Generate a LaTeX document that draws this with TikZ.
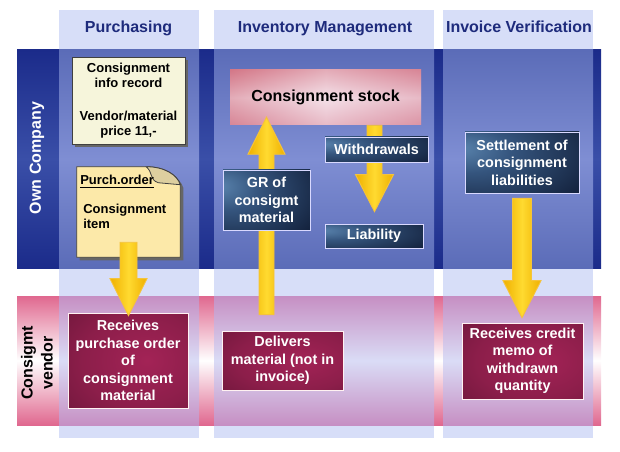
\documentclass[tikz,border=0pt]{standalone}
\usepackage{fontspec}
\setmainfont{Liberation Sans}
\usetikzlibrary{calc,shadows}
\definecolor{colbg}{HTML}{D7DEF8}
\definecolor{navy}{HTML}{1B2B8A}
\definecolor{navymid}{HTML}{3A4FA8}
\definecolor{bluetb}{HTML}{5B6CB8}
\definecolor{bluemid}{HTML}{7F8ED3}
\definecolor{pinkedge}{HTML}{E0688F}
\definecolor{mauve}{HTML}{C68FC3}
\definecolor{lav}{HTML}{DADCF6}
\definecolor{headtxt}{HTML}{1E2B7C}
\definecolor{cream}{HTML}{F6F5DB}
\definecolor{poyel}{HTML}{FCE9A9}
\definecolor{arrO}{HTML}{EFB000}
\definecolor{arrY}{HTML}{FFDA30}
\definecolor{arrLine}{HTML}{F5C33B}
\definecolor{stockR}{HTML}{D47888}
\definecolor{stockB}{HTML}{DC94A5}
\definecolor{stockP}{HTML}{F4E1E9}
\definecolor{bbA}{HTML}{5A84AE}
\definecolor{bbB}{HTML}{35557E}
\definecolor{bbC}{HTML}{13213C}
\definecolor{bbD}{HTML}{080F20}
\definecolor{mrA}{HTML}{A32356}
\definecolor{mrB}{HTML}{8C1E4A}
\definecolor{mrC}{HTML}{53102D}
\definecolor{mrD}{HTML}{36081C}
\pgfdeclareradialshading{blueboxshade}{\pgfpoint{-28bp}{12bp}}{color(0bp)=(bbA); color(18bp)=(bbB); color(50bp)=(bbC); color(100bp)=(bbD)}
\pgfdeclareradialshading{maroonshade}{\pgfpoint{8bp}{0bp}}{color(0bp)=(mrA); color(25bp)=(mrB); color(62bp)=(mrC); color(100bp)=(mrD)}
\pgfdeclarelayer{arrows}
\pgfdeclarelayer{front}
\pgfsetlayers{main,arrows,front}
\tikzset{
  hdr/.style={anchor=base, text=headtxt, font=\bfseries\fontsize{12}{14}\selectfont},
  sidelabel/.style={rotate=90, align=center, font=\bfseries\fontsize{12}{15}\selectfont},
  infobox/.style={fill=cream, draw=black!75, line width=0.7pt,
    drop shadow={shadow xshift=2.25pt, shadow yshift=-2.25pt, fill=black!60, opacity=1},
    align=center, inner sep=0pt, font=\bfseries\fontsize{9.75}{11.25}\selectfont},
  docshape/.style={fill=poyel, draw=black!75, line width=0.7pt,
    drop shadow={shadow xshift=2.25pt, shadow yshift=-2.25pt, fill=black!60, opacity=1}},
  doctext/.style={inner sep=0pt, align=left, font=\bfseries\fontsize{9.75}{11.25}\selectfont},
  stockbox/.style={shade, top color=stockR, bottom color=stockB, middle color=stockP,
    postaction={fill opacity=0.5, left color=stockR, right color=stockB, middle color=stockP},
    inner sep=0pt, font=\bfseries\fontsize{12}{14}\selectfont},
  bluebox/.style={shade, shading=blueboxshade, draw=white!85!blue, line width=0.6pt,
    text=white, align=center, inner sep=0pt, font=\bfseries\fontsize{10.8}{13.2}\selectfont},
  maroonbox/.style={shade, shading=maroonshade, draw=white!80!pink, line width=0.5pt,
    text=white, align=center, inner sep=0pt, font=\bfseries\fontsize{10.8}{13.1}\selectfont},
  yarrow/.style={left color=arrO, right color=arrO, middle color=arrY, draw=arrLine,
    line width=0.7pt, line join=miter}
}
% #1 start, #2 tip, #3 shaft half width, #4 head half width (pixels)
\newcommand{\bigarrow}[4]{%
  \path[yarrow] let \p1=(#1), \p2=(#2), \n1={sign(\y1-\y2)*27.75} in
    ({\x1-#3*0.75pt},\y1) -- ({\x1-#3*0.75pt},{\y2+\n1*1pt}) --
    ({\x1-#4*0.75pt},{\y2+\n1*1pt}) -- (\x1,\y2) --
    ({\x1+#4*0.75pt},{\y2+\n1*1pt}) -- ({\x1+#3*0.75pt},{\y2+\n1*1pt}) --
    ({\x1+#3*0.75pt},\y1) -- cycle;}
\begin{document}
\begin{tikzpicture}[x=0.75pt, y=-0.75pt]
\useasboundingbox (0,0) rectangle (620,452);
% column backgrounds
\fill[colbg] (59,10) rectangle (199,438);
\fill[colbg] (214,10) rectangle (434,438);
\fill[colbg] (443,10) rectangle (593,438);
% own company band
\shade[top color=navy, bottom color=navy, middle color=navymid] (17,50) rectangle (601,268);
\foreach \a/\b in {59/199, 214/434, 443/593}
  \shade[top color=bluetb, bottom color=bluetb, middle color=bluemid] (\a,50) rectangle (\b,268);
% consignment vendor band
\shade[top color=pinkedge, bottom color=pinkedge, middle color=white] (17,296) rectangle (601,425);
\foreach \a/\b in {59/199, 214/434, 443/593}
  \shade[top color=mauve, bottom color=mauve, middle color=lav] (\a,296) rectangle (\b,425);
% headers
\node[hdr] (h1) at (128.5,33) {Purchasing};
\node[hdr] (h2) at (325,33) {Inventory Management};
\node[hdr] (h3) at (519,33) {Invoice Verification};
% side labels
\node[sidelabel, text=white] (olabel) at (37,158) {Own Company};
\node[sidelabel, text=black] (vlabel) at (37,363) {Consigmt\\vendor};
% purchasing
\node[infobox, minimum width=84.75pt, minimum height=65.25pt] (info) at (128.5,100.5)
  {Consignment\\info record\\[13.5pt]Vendor/material\\price 11,-};
\node[minimum width=77.25pt, minimum height=67.5pt, inner sep=0pt] (po) at (128.5,212) {};
\path[docshape] (po.north west) -- ($(po.north east)+(-34,0)$)
  .. controls ($(po.north east)+(-16,0)$) and ($(po.north east)+(-3,8)$) .. ($(po.north east)+(0,18)$)
  -- (po.south east) -- (po.south west) -- cycle;
\path[fill=poyel!75!gray, draw=black!75, line width=0.6pt] ($(po.north east)+(-34,0)$)
  .. controls ($(po.north east)+(-27,6)$) and ($(po.north east)+(-31,13)$) .. ($(po.north east)+(-22,16)$)
  -- ($(po.north east)+(0,18)$)
  .. controls ($(po.north east)+(-3,8)$) and ($(po.north east)+(-16,0)$) .. cycle;
\node[doctext, anchor=base west] (potitle) at (80,185) {\underline{Purch.order}};
\node[doctext, anchor=north west] (poitem) at (83,204) {Consignment\\item};
\node[maroonbox, minimum width=90pt, minimum height=71.25pt] (rec) at (128,360.5)
  {Receives\\purchase order\\of\\consignment\\material};
% inventory management
\node[stockbox, minimum width=143.25pt, minimum height=41.25pt] (stock) at (325.5,97.5) {Consignment stock};
\node[bluebox, minimum width=73.5pt, minimum height=18pt] (liab) at (374,236) {Liability};
\node[maroonbox, minimum width=90.75pt, minimum height=44.25pt] (deliv) at (282.5,360.5)
  {Delivers\\material (not in\\invoice)};
\begin{pgfonlayer}{front}
\node[bluebox, minimum width=65.25pt, minimum height=45pt] (gr) at (266.5,200) {GR of\\consigmt\\material};
\node[bluebox, minimum width=77.25pt, minimum height=18.75pt] (wd) at (376.5,149.5) {Withdrawals};
\end{pgfonlayer}
% invoice verification
\node[bluebox, minimum width=85.5pt, minimum height=45.75pt] (settle) at (522,162.5)
  {Settlement of\\consignment\\liabilities};
\node[maroonbox, minimum width=90.75pt, minimum height=57pt] (credit) at (522.5,361)
  {Receives credit\\memo of\\withdrawn\\quantity};
% arrows
\coordinate (a1s) at ($(po.south)+(0,-15)$);
\coordinate (a1e) at ($(rec.north)+(0,3)$);
\coordinate (a2s) at ($(gr |- deliv.north)+(0,-16)$);
\coordinate (a2e) at ($(gr |- stock.south)+(0,-8)$);
\coordinate (a3s) at ($(liab |- stock.south)+(0.5,0)$);
\coordinate (a3e) at ($(liab.north)+(0,-12)$);
\coordinate (a4s) at ($(settle.south)+(0,5)$);
\coordinate (a4e) at ($(settle |- credit.north)+(0,-5)$);
\begin{pgfonlayer}{arrows}
\bigarrow{a1s}{a1e}{8.5}{18.5}
\bigarrow{a2s}{a2e}{7.5}{18.5}
\bigarrow{a3s}{a3e}{7.5}{19}
\bigarrow{a4s}{a4e}{9.5}{19}
\end{pgfonlayer}
\end{tikzpicture}
\end{document}
